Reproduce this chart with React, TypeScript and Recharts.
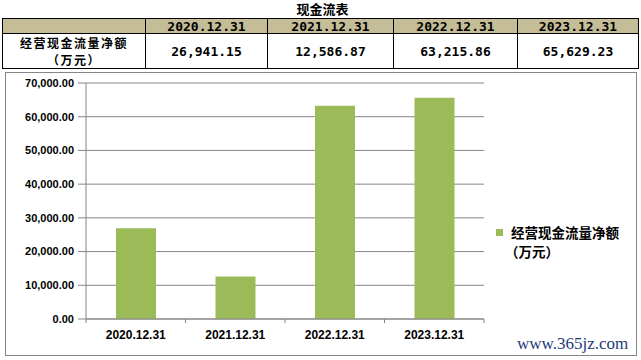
import React from 'react';
import { BarChart, Bar, XAxis, YAxis, CartesianGrid, Legend } from 'recharts';

const categories = ['2020.12.31', '2021.12.31', '2022.12.31', '2023.12.31'];
const netCashFlow = [26941.15, 12586.87, 63215.86, 65629.23];
const yTicks = [0, 10000, 20000, 30000, 40000, 50000, 60000, 70000];
const tableTitle = '现金流表';
const seriesName = '经营现金流量净额';
const unitLabel = '（万元）';

const BAR_GREEN = '#9bbb59';
const AXIS_GREY = '#868686';
const HEADER_TAN = '#c4bd97';

// plot area: x 86..484, y 83..319
const PLOT_LEFT = 86;
const PLOT_RIGHT = 484;
const BAND = (PLOT_RIGHT - PLOT_LEFT) / categories.length;

const fmt = (v: number) =>
  v.toLocaleString('en-US', { minimumFractionDigits: 2, maximumFractionDigits: 2 });

const chartData = categories.map((name, i) => ({ name, value: netCashFlow[i] }));

const cjk = '"Noto Sans CJK SC", "Noto Sans", sans-serif';
const mono = '"DejaVu Sans Mono", "Liberation Mono", monospace';

function CategoryTick(props: any) {
  const { x, y, payload, index } = props;
  const half = BAND / 2;
  return (
    <g>
      <line x1={x - half} x2={x - half} y1={y - 4} y2={y} stroke={AXIS_GREY} />
      {index === categories.length - 1 && (
        <line x1={x + half} x2={x + half} y1={y - 4} y2={y} stroke={AXIS_GREY} />
      )}
      <text
        x={x}
        y={y + 16}
        textAnchor="middle"
        fill="#000"
        fontSize={12}
        fontWeight="bold"
        fontFamily='"Liberation Sans", Arial, sans-serif'
      >
        {payload.value}
      </text>
    </g>
  );
}

function LegendBox() {
  return (
    <div style={{ fontFamily: cjk, fontWeight: 'bold', fontSize: 13.5, color: '#000', lineHeight: '19px', textAlign: 'left' }}>
      <div style={{ display: 'flex', alignItems: 'center' }}>
        <span style={{ display: 'inline-block', width: 7, height: 7, background: BAR_GREEN, marginRight: 8 }} />
        <span>{seriesName}</span>
      </div>
      <div style={{ paddingLeft: 9 }}>{unitLabel}</div>
    </div>
  );
}

const cell: React.CSSProperties = {
  border: '1px solid #000',
  padding: 0,
  textAlign: 'center',
  fontFamily: mono,
  fontWeight: 'bold',
  fontSize: 13,
  color: '#000',
};

export default function App() {
  const colWidths = [143, 122, 126, 124, 121];
  return (
    <div style={{ position: 'absolute', left: 0, top: 0, width: 641, height: 360, background: '#fff', overflow: 'hidden' }}>
      <div
        style={{
          position: 'absolute',
          left: 0,
          top: 0,
          width: 641,
          textAlign: 'center',
          fontFamily: cjk,
          fontWeight: 'bold',
          fontSize: 13,
          lineHeight: '18px',
          paddingLeft: 2,
        }}
      >
        {tableTitle}
      </div>
      <table
        style={{
          position: 'absolute',
          left: 2,
          top: 18,
          borderCollapse: 'collapse',
          tableLayout: 'fixed',
          width: 636,
        }}
      >
        <colgroup>
          {colWidths.map((w, i) => (
            <col key={i} style={{ width: w }} />
          ))}
        </colgroup>
        <tbody>
          <tr style={{ height: 15, background: HEADER_TAN }}>
            <td style={cell} />
            {categories.map((c) => (
              <td key={c} style={{ ...cell, lineHeight: '13px' }}>
                {c}
              </td>
            ))}
          </tr>
          <tr style={{ height: 32 }}>
            <td style={{ ...cell, fontFamily: cjk, fontSize: 12, lineHeight: '17px', letterSpacing: 1.5 }}>
              <div>{seriesName}</div>
              <div>{unitLabel}</div>
            </td>
            {netCashFlow.map((v, i) => (
              <td key={i} style={cell}>
                {fmt(v)}
              </td>
            ))}
          </tr>
        </tbody>
      </table>

      <div
        style={{
          position: 'absolute',
          left: 5,
          top: 72,
          width: 630,
          height: 282,
          border: `1px solid ${AXIS_GREY}`,
        }}
      />

      <div style={{ position: 'absolute', left: 0, top: 0 }}>
        <BarChart
          width={641}
          height={360}
          data={chartData}
          margin={{ top: 83, right: 641 - PLOT_RIGHT, bottom: 11, left: 6 }}
          barSize={40}
        >
          <CartesianGrid vertical={false} stroke={AXIS_GREY} strokeWidth={1} />
          <XAxis
            dataKey="name"
            height={30}
            axisLine={{ stroke: AXIS_GREY }}
            tickLine={false}
            tickSize={4}
            tickMargin={0}
            interval={0}
            tick={<CategoryTick />}
          />
          <YAxis
            width={80}
            domain={[0, 70000]}
            ticks={yTicks}
            axisLine={{ stroke: AXIS_GREY }}
            tickLine={{ stroke: AXIS_GREY }}
            tickSize={8}
            tickMargin={4}
            tickFormatter={fmt}
            tick={{ fill: '#000', fontSize: 11, fontWeight: 'bold', fontFamily: '"Liberation Sans", Arial, sans-serif' }}
          />
          <Legend
            layout="horizontal"
            verticalAlign="middle"
            align="center"
            content={<LegendBox />}
            wrapperStyle={{ left: 496, top: 223, width: 140 }}
          />
          <Bar dataKey="value" name={seriesName} fill={BAR_GREEN} isAnimationActive={false} />
        </BarChart>
      </div>

      <div
        style={{
          position: 'absolute',
          left: 517,
          top: 334,
          fontFamily: '"Liberation Serif", "DejaVu Serif", serif',
          fontSize: 17,
          color: '#1f3a78',
          lineHeight: '20px',
        }}
      >
        www.365jz.com
      </div>
    </div>
  );
}
